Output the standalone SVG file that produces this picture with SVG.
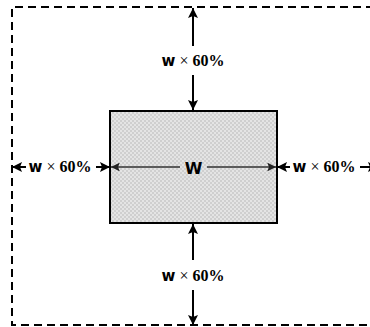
<svg xmlns="http://www.w3.org/2000/svg" width="370" height="327" viewBox="0 0 370 327">
<style>
.dash{fill:none;stroke:#000;stroke-width:2;stroke-dasharray:8 5}
.ar{stroke:#000;stroke-width:2;fill:none}
.ar1{stroke:#333;stroke-width:1.6;fill:none}
.lbl{font-family:"Liberation Serif",serif;font-weight:bold;font-size:16px;fill:#000}
.w{font-family:"DejaVu Sans",sans-serif;font-weight:bold;font-size:15px}
.x{font-weight:normal}
.big{font-family:"DejaVu Sans",sans-serif;font-weight:bold;font-size:16px;fill:#000}
</style>
<defs>
<pattern id="chk" width="4" height="4" patternUnits="userSpaceOnUse">
<rect width="4" height="4" fill="#e4e4e4"/>
<rect width="2" height="2" fill="#cfcfcf"/>
<rect x="2" y="2" width="2" height="2" fill="#cfcfcf"/>
</pattern>
<marker id="ah" viewBox="0 0 10 10" refX="10" refY="5" markerWidth="5" markerHeight="5" orient="auto" markerUnits="strokeWidth">
<path d="M0,0 L10,5 L0,10 L2,5 Z" fill="#000"/>
</marker>
<marker id="ah1" viewBox="0 0 10 10" refX="10" refY="5" markerWidth="5.5" markerHeight="5.5" orient="auto" markerUnits="strokeWidth">
<path d="M0,0 L10,5 L0,10 L2,5 Z" fill="#222"/>
</marker>
</defs>
<g id="boundary">
<path class="dash" d="M400,7 H12 V325 H400"/>
</g>
<g id="box">
<rect x="110" y="111" width="167" height="112" fill="url(#chk)" stroke="#000" stroke-width="2"/>
</g>
<g id="connectors">
<line class="ar" x1="193" y1="46" x2="193" y2="8" marker-end="url(#ah)"/>
<line class="ar" x1="193" y1="75" x2="193" y2="110" marker-end="url(#ah)"/>
<line class="ar" x1="193" y1="260" x2="193" y2="224" marker-end="url(#ah)"/>
<line class="ar" x1="193" y1="290" x2="193" y2="325" marker-end="url(#ah)"/>
<line class="ar" x1="26" y1="167" x2="12" y2="167" marker-end="url(#ah)"/>
<line class="ar" x1="96" y1="167" x2="110" y2="167" marker-end="url(#ah)"/>
<line class="ar" x1="290" y1="167" x2="277" y2="167" marker-end="url(#ah)"/>
<line class="ar" x1="360" y1="167" x2="378" y2="167" marker-end="url(#ah)"/>
<line class="ar1" x1="180" y1="167" x2="111" y2="167" marker-end="url(#ah1)"/>
<line class="ar1" x1="207" y1="167" x2="276" y2="167" marker-end="url(#ah1)"/>
</g>
<g id="labels">
<text class="lbl" x="193" y="65.5" text-anchor="middle"><tspan class="w">w</tspan> <tspan class="x">×</tspan> 60%</text>
<text class="lbl" x="193" y="281" text-anchor="middle"><tspan class="w">w</tspan> <tspan class="x">×</tspan> 60%</text>
<text class="lbl" x="60" y="172" text-anchor="middle"><tspan class="w">w</tspan> <tspan class="x">×</tspan> 60%</text>
<text class="lbl" x="324" y="172" text-anchor="middle"><tspan class="w">w</tspan> <tspan class="x">×</tspan> 60%</text>
<text class="big" x="193.5" y="174" text-anchor="middle">W</text>
</g>
</svg>
